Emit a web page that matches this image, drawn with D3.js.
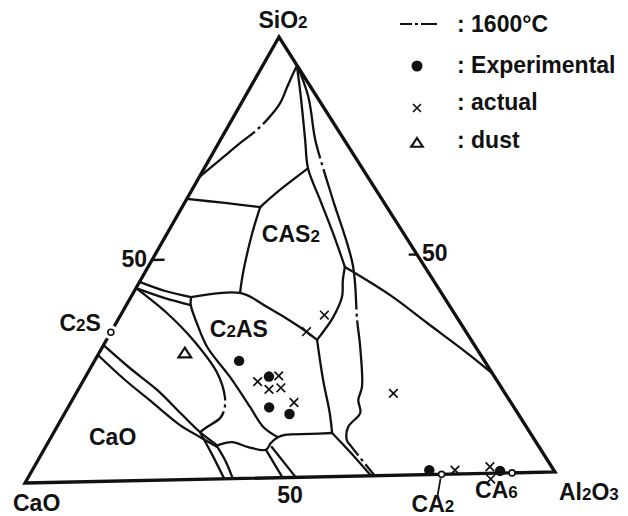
<!DOCTYPE html>
<html>
<head>
<meta charset="utf-8">
<script src="https://cdn.jsdelivr.net/npm/d3@7"></script>
<style>
  body { margin: 0; background: #fff; }
  svg text { font-family: "Liberation Sans", Arial, sans-serif; font-weight: bold; fill: #111; }
  .bnd { fill: none; stroke: #111; stroke-width: 2.3; stroke-linejoin: round; stroke-linecap: round; }
  .iso { stroke-dasharray: 145 4 3 4; stroke-linecap: butt; }
</style>
</head>
<body>
<div id="chart"></div>
<script>
// CaO - SiO2 - Al2O3 ternary, compositions as [SiO2 %, Al2O3 %] (CaO = rest)
var svgWidth = 628;
var svgHeight = 516;

// vertex positions of the triangle on the page
var CAO = {x: 25, y: 483};
var AL = {x: 555, y: 472};
var SI = {x: 279, y: 37};

// phase boundaries
var silicaIso = [[68.6,0],[72.4,2.1],[76.1,4.1],[78.3,5.5],[81.2,6.7],[85.0,7.4],[88.6,7.0],[92.4,6.6],[93.3,6.6]];
var wollTop = [[63.7,0],[62.6,7.7],[61.5,14.9]];
var cas2Top = [[61.5,14.9],[65.3,16.8],[69.9,19.7]];
var cas2Left = [[61.5,14.9],[55.7,16.2],[46.6,18.8],[42.1,20.4]];
var mulliteLeft = [[93.3,6.6],[86.1,10.8],[76.5,16.2],[70.1,19.8],[62.8,25.6],[55.3,31.6],[47.5,37.6]];
var cas2Right = [[47.5,37.6],[44.6,38.6],[40.7,40.3],[36.2,40.8],[31.1,40.2]];
var c2asRight = [[31.1,40.2],[22.0,45.7],[14.4,50.6],[9.9,53.2]];
var caBound = [[9.9,53.2],[5.5,58.7],[0,65.3]];
var mulliteLow = [[47.5,37.6],[40.9,49.3],[34.4,59.4],[27.4,70.3],[22.6,77.4]];
var iso1600 = [[93.2,6.8],[86.3,12.1],[76.5,18.1],[70.3,22.5],[62.8,28.0],[47.9,38.9],[35.4,45.7],[29.3,49.2],[20.2,53.9],[17.3,54.6],[14.3,56.4],[11.2,55.6],[8.2,56.8],[6.6,58.5],[0,66.0]];
var c2asTop = [[41.4,11.5],[42.1,20.4],[38.8,27.1],[34.1,35.5],[31.1,40.2]];
var bandUpper = [[45.1,0],[42.9,5.9],[41.4,11.5]];
var bandLower = [[43.7,0],[41.3,6.6],[39.6,12.3]];
var c2asLeft = [[41.4,11.5],[39.6,12.3],[35.5,15.4],[30.0,20.0],[23.1,27.6],[16.2,34.7],[11.6,39.4],[9.2,43.3]];
var lowerStrip = [[7.7,32.7],[8.3,35.1],[7.1,38.7],[6.4,42.4],[7.9,42.6],[9.2,43.3],[9.7,44.4],[9.8,49.1],[9.9,53.2]];
var bigCurve = [[43.7,0],[37.9,8.6],[31.7,16.5],[24.1,24.7],[18.6,28.8],[15.6,30.1],[13.8,30.2],[11.9,28.7],[10.7,27.9]];
var caoUpper = [[30.9,0],[25.6,7.5],[20.5,15.1],[15.2,22.0],[10.7,27.9],[7.7,32.5]];
var caoLower = [[28.7,0],[22.9,7.9],[18.2,14.8],[12.4,23.3],[9.6,28.4],[7.3,32.7]];
var q1 = [[10.7,27.9],[5.5,32.7],[0,37.6]];
var q2 = [[7.5,32.6],[3.8,36.1],[0,39.2]];
var q4 = [[6.4,42.4],[0,48.6]];
var q5 = [[7.0,43.2],[0,51.1]];

var solidLines = [wollTop, cas2Top, cas2Left, mulliteLeft, cas2Right, c2asRight, caBound,
  mulliteLow, c2asTop, bandUpper, bandLower, c2asLeft, lowerStrip, caoUpper, caoLower, q1, q2, q4, q5];

// points
var expPts = [[26.7,27.6],[23.0,35.0],[16.0,38.4],[14.4,43.0],[1.0,75.8],[0.5,89.4]];
var actualPts = [[23.1,36.8],[21.9,33.4],[20.1,36.4],[20.4,38.5],[17.0,42.6],[33.0,37.3],[36.7,38.9],[18.6,60.6],[0.9,80.7],[1.5,87.0],[-1.3,88.5]];
var dustPts = [[28.7,16.4]];
var compounds = [[33.8,0],[0,78.6],[0,91.9]];   // C2S, CA2, CA6

var legendLabels = ["1600\u00B0C", "Experimental", "actual", "dust"];

// ternary projection built from linear scales
var alX = d3.scaleLinear().domain([0,100]).range([0, AL.x - CAO.x]);
var alY = d3.scaleLinear().domain([0,100]).range([0, AL.y - CAO.y]);
var siX = d3.scaleLinear().domain([0,100]).range([0, SI.x - CAO.x]);
var siY = d3.scaleLinear().domain([0,100]).range([0, SI.y - CAO.y]);
var px = d => CAO.x + alX(d[1]) + siX(d[0]);
var py = d => CAO.y + alY(d[1]) + siY(d[0]);

var svg = d3.select("#chart")
  .append("svg")
  .attr("width", svgWidth)
  .attr("height", svgHeight);

var curve = d3.line().x(px).y(py).curve(d3.curveCatmullRom.alpha(0.5));
var straight = d3.line().x(px).y(py);

// triangle
svg.append("path")
  .attr("d", straight([[0,0],[0,100],[100,0]]) + "Z")
  .attr("fill", "none")
  .attr("stroke", "#111")
  .attr("stroke-width", 3.3)
  .attr("stroke-linejoin", "miter");

// 50 ticks on the two sloping sides
svg.append("path").attr("class", "bnd").attr("stroke-width", 1.8)
  .attr("d", straight([[50,0],[50,2.2]]));
svg.append("path").attr("class", "bnd").attr("stroke-width", 1.8)
  .attr("d", straight([[50,50],[50,48.6]]));

svg.selectAll("path.solid")
  .data(solidLines)
  .join("path")
  .attr("class", "bnd solid")
  .attr("d", curve);

// 1600 isotherm style lines
svg.append("path").attr("class", "bnd iso").attr("d", curve(silicaIso))
  .attr("stroke-dashoffset", 73);
svg.append("path").attr("class", "bnd iso").attr("d", curve(iso1600))
  .attr("stroke-dashoffset", 50);
svg.append("path").attr("class", "bnd iso").attr("d", curve(bigCurve))
  .attr("stroke-dashoffset", -2);

// compounds (small open circles)
svg.selectAll("circle.gap")
  .data(compounds.slice(0,1))
  .join("circle")
  .attr("cx", px).attr("cy", py).attr("r", 7).attr("fill", "#fff");
svg.selectAll("circle.cmp")
  .data(compounds)
  .join("circle")
  .attr("cx", px).attr("cy", py).attr("r", 3)
  .attr("fill", "#fff").attr("stroke", "#111").attr("stroke-width", 1.6);

// CA2 pointer
var ca2 = compounds[1];
svg.append("line")
  .attr("x1", px(ca2) - 1).attr("y1", py(ca2) + 4)
  .attr("x2", px(ca2) - 4).attr("y2", py(ca2) + 21)
  .attr("stroke", "#111").attr("stroke-width", 1.8);

// markers
function cross(g, x, y, s) {
  g.append("path")
    .attr("d", `M${x-s},${y-s}L${x+s},${y+s}M${x-s},${y+s}L${x+s},${y-s}`)
    .attr("stroke", "#111").attr("stroke-width", 1.7).attr("fill", "none");
}
function tri(g, x, y, s) {
  g.append("path")
    .attr("d", `M${x},${y-s}L${x+s*1.15},${y+s*0.75}L${x-s*1.15},${y+s*0.75}Z`)
    .attr("stroke", "#111").attr("stroke-width", 2.2).attr("fill", "#fff");
}

svg.selectAll("circle.exp")
  .data(expPts)
  .join("circle")
  .attr("cx", px).attr("cy", py).attr("r", 5.2).attr("fill", "#111");

var mk = svg.append("g");
actualPts.forEach(d => cross(mk, px(d), py(d), 4.3));
dustPts.forEach(d => tri(mk, px(d), py(d), 5.5));

// labels
var fs = 23;
function label(x, y, parts, anchor) {
  var t = svg.append("text").attr("x", x).attr("y", y)
    .attr("text-anchor", anchor || "start").style("font-size", fs + "px");
  parts.forEach(p => {
    t.append("tspan").text(p[0]).style("font-size", p[1] ? Math.round(fs * 0.72) + "px" : null);
  });
  return t;
}

label(SI.x + 4, SI.y - 9, [["SiO"],["2",1]], "middle");
label(CAO.x - 12, CAO.y + 28, [["CaO"]]);
label(AL.x + 4, AL.y + 28, [["Al"],["2",1],["O"],["3",1]]);
label(px(compounds[1]) - 30, py(compounds[1]) + 38, [["CA"],["2",1]]);
label(px(compounds[2]) - 37, py(compounds[2]) + 25, [["CA"],["6",1]]);
label(px(compounds[0]) - 10, py(compounds[0]) - 1, [["C"],["2",1],["S"]], "end");
label(px([0,50]), py([0,50]) + 25, [["50"]], "middle");
label(px([50,0]) - 5, py([50,0]) + 7, [["50"]], "end");
label(px([50,50]) + 5, py([50,50]) + 6, [["50"]]);
label(px([32.3,19.4]), py([32.3,19.4]), [["C"],["2",1],["AS"]]);
label(px([53.6,19.0]), py([53.6,19.0]), [["CAS"],["2",1]]);
label(px([8.3,8.1]), py([8.3,8.1]), [["CaO"]]);

// legend
var lg = svg.append("g");
var rows = [24, 66, 108, 143];
var textY = [32, 73, 110, 148];
lg.append("path")
  .attr("d", `M400,${rows[0]}L412,${rows[0]}M415,${rows[0]}L418,${rows[0]}M421,${rows[0]}L437,${rows[0]}`)
  .attr("stroke", "#111").attr("stroke-width", 2.2);
lg.append("circle").attr("cx", 417).attr("cy", rows[1]).attr("r", 5.5).attr("fill", "#111");
cross(lg, 417, rows[2], 4);
tri(lg, 417, rows[3], 5);
legendLabels.forEach((t, i) => {
  lg.append("text").attr("x", 457).attr("y", textY[i]).style("font-size", fs + "px").text(": " + t);
});
</script>
</body>
</html>
